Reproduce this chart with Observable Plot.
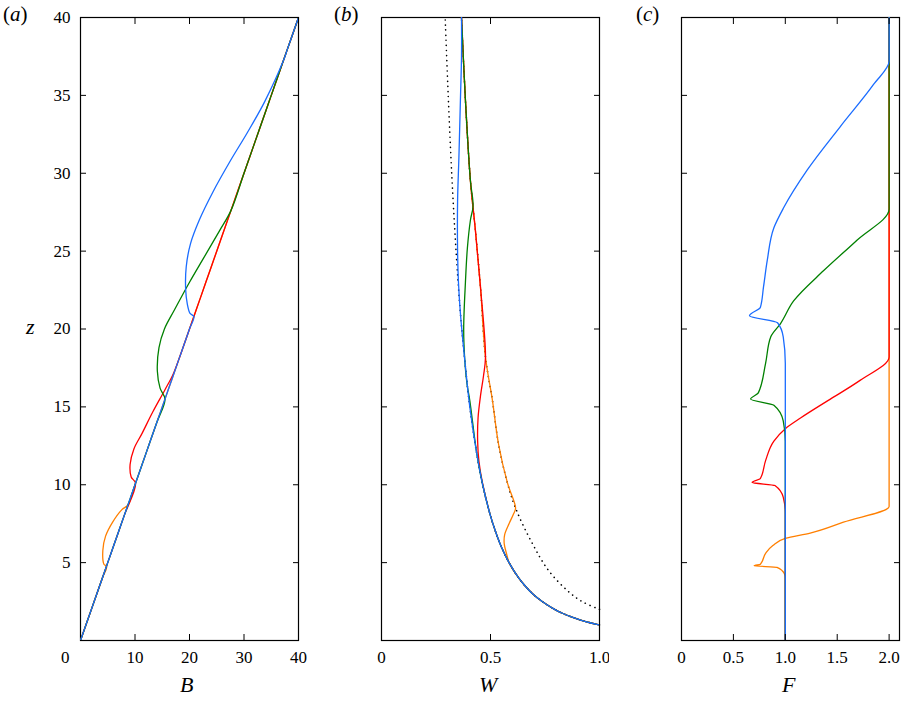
<!DOCTYPE html>
<html><head><meta charset="utf-8">
<script src="https://cdn.jsdelivr.net/npm/d3@7"></script>
<script src="https://cdn.jsdelivr.net/npm/@observablehq/plot@0.6"></script>
<style>
body{margin:0;background:#fff;font-family:"Liberation Serif","Times New Roman",Times,serif;}
#wrap{position:relative;width:904px;height:702px;}
#wrap svg{position:absolute;top:0;}
#wrap svg text{font-family:"Liberation Serif","Times New Roman",Times,serif;}
.lab{position:absolute;font-family:"Liberation Serif","Times New Roman",Times,serif;font-size:21px;color:#000;}
.it{font-style:italic;}
</style></head><body>
<div id="wrap"></div>
<script>
const series = ["orange","red","green","blue"];
const colors = ["#ff7f00","#ff0000","#008000","#1a6cff"];
const zTicks = [5,10,15,20,25,30,35,40];
const bTicks = [10,20,30,40];
const wTicks = [0,0.5,1.0];
const fTicks = [0,0.5,1.0,1.5,2.0];
const fTickLabels = ["0","0.5","1.0","1.5","2.0"];
const baseZ = [0,2,4,6,8,10,12,14,16,18,20,22,24,26,28,30,32,34,36,38,40];

// Panel (a): B deviations [B, z]
const aOrange = [[4.8,4.75],[4.3,4.9],[4.1,5.8],[4.6,6.7],[5.9,7.6],[7.6,8.4],[8.7,8.7]];
const aRed = [[10.1,10.1],[9.3,10.5],[9.1,11.3],[9.8,12.3],[11.3,13.3],[13.3,14.7],[15.5,16.1],[17,17.1],[18.2,18.2]];
const aGreen = [[15.5,15.5],[14.6,16.2],[14.1,17.3],[14.4,18.8],[15.4,20],[17.2,21.2],[20,23],[22.5,24.5],[25.5,26.3],[27.6,27.6]];
const aBlue = [[20.8,20.8],[20.1,21],[19.6,21.6],[19.3,22.5],[19.4,24],[20.2,25.5],[21.8,27],[24.3,28.8],[27.5,30.8],[30.6,32.6],[33.8,34.6],[37.2,37.2]];

// Panel (b): dotted reference curves [W, z]
const wLower = [[1,1],[0.928,1.25],[0.874,1.5],[0.83,1.75],[0.794,2],[0.737,2.5],[0.693,3],[0.659,3.5],[0.63,4],[0.585,5],[0.55,6],[0.523,7],[0.5,8],[0.464,10],[0.437,12],[0.405,15],[0.382,18],[0.362,21],[0.342,25],[0.322,30],[0.306,35],[0.292,40]];
const wUpper = [[1.0,2],[0.92,2.5],[0.853,3.2],[0.766,4.5],[0.693,6.2],[0.615,8.5],[0.578,10.1],[0.537,12.6],[0.509,15.4],[0.477,18.2],[0.454,22.7],[0.431,26.3],[0.408,29.5],[0.385,34.7],[0.367,40]];
const bOrange = {from:5, to:9.5, dev:[[0.585,5],[0.575,5.5],[0.563,6.2],[0.565,6.8],[0.585,7.5],[0.605,8.1],[0.615,8.5]]};
const bRed = {from:10, to:18.3, dev:[[0.462,10.2],[0.447,11.5],[0.441,12.8],[0.443,14.3],[0.455,15.8],[0.468,17],[0.477,18.2]]};
const bGreen = {from:15, to:28, dev:[[0.405,15.4],[0.392,16.5],[0.382,18],[0.377,20],[0.385,23],[0.394,25.2],[0.408,27],[0.42,27.9]]};
const bBlue = {from:21, to:38, dev:[[0.362,21],[0.353,23],[0.349,25],[0.349,28.2],[0.355,31],[0.362,34.7],[0.367,37.5]]};

// Panel (c): F [F, z]
const cOrange = [[1,0],[1,4.0],[0.99,4.3],[0.92,4.7],[0.7,4.8],[0.76,4.9],[0.81,5.6],[0.88,6.1],[1.0,6.55],[1.24,6.9],[1.56,7.6],[2,8.6],[2,40]];
const cRed = [[1,0],[1,8.15],[0.98,9.2],[0.9,9.95],[0.68,10.15],[0.76,10.4],[0.81,11.55],[0.89,12.8],[1.0,13.6],[1.15,14.3],[1.41,15.4],[1.72,16.7],[2,18.2],[2,40]];
const cGreen = [[1,0],[1,12.8],[0.98,14.1],[0.89,15.1],[0.665,15.5],[0.74,15.9],[0.81,17.8],[0.86,19.5],[0.954,20.35],[1.08,21.8],[1.37,23.75],[1.69,25.7],[2,27.7],[2,40]];
const cBlue = [[1,0],[1,17.8],[0.98,19.5],[0.925,20.4],[0.655,20.85],[0.76,21.4],[0.79,22.7],[0.826,24.4],[0.89,26.5],[0.985,27.8],[1.21,30.2],[1.53,33],[1.85,35.7],[2,37.2],[2,40]];

const aData = [aOrange,aRed,aGreen,aBlue].map(d=>{
  const z0=d[0][1], z1=d[d.length-1][1];
  return [...baseZ.filter(z=>z<z0-0.5).map(z=>[z,z]),...d,...baseZ.filter(z=>z>z1+0.5).map(z=>[z,z])];
});
const bData = [bOrange,bRed,bGreen,bBlue].map(s=>[...wLower.filter(p=>p[1]<s.from),...s.dev,...wUpper.filter(p=>p[1]>s.to)]);
const cData = [cOrange,cRed,cGreen,cBlue];

function panel(xDomain, xTicks, xFmt, data, dotted, yLabels, curve){
  const marks = [Plot.frame({strokeWidth:1.2})];
  if (dotted) dotted.forEach(d=>marks.push(Plot.line(d,{x:p=>p[0],y:p=>p[1],stroke:"black",strokeWidth:1.6,strokeDasharray:"0.1,5",strokeLinecap:"round",curve:"catmull-rom"})));
  data.forEach((d,i)=>marks.push(Plot.line(d,{x:p=>p[0],y:p=>p[1],stroke:colors[i],strokeWidth:1.3,curve,clip:true})));
  marks.push(Plot.axisX(xTicks,{anchor:"bottom",tickSize:-6,tickPadding:16,fontSize:17,tickFormat:xFmt,label:null}));
  marks.push(Plot.axisX(xTicks,{anchor:"top",tickSize:-6,tickFormat:()=>"",label:null}));
  marks.push(Plot.axisY(zTicks,{anchor:"left",tickSize:-6,tickPadding:16,fontSize:17,tickFormat:yLabels?(d=>d):(()=>""),label:null}));
  marks.push(Plot.axisY(zTicks,{anchor:"right",tickSize:-6,tickFormat:()=>"",label:null}));
  return Plot.plot({width:309,height:702,marginLeft:81,marginRight:10,marginTop:17,marginBottom:62,
    style:{fontFamily:"'Liberation Serif','Times New Roman',serif",fontSize:"17px",color:"black"},
    x:{domain:xDomain},y:{domain:[0,40]},marks});
}
const wrap = document.getElementById("wrap");
const pa = panel([0,40],bTicks,d=>d,aData,null,true,"catmull-rom");
const pb = panel([0,1],wTicks,d=>d===0?"0":d.toFixed(1),bData,[wLower,wUpper],false,"catmull-rom");
const pc = panel([0,2.1],fTicks,d=>fTickLabels[fTicks.indexOf(d)],cData,null,false,"monotone-y");
pa.style.left="-1px"; pb.style.left="300px"; pc.style.left="600px";
wrap.append(pa,pb,pc);
const labels = [["(","a",")",3,2],["(","b",")",334,2],["(","c",")",636,2]];
labels.forEach(([o,l,c,x,y])=>{const d=document.createElement("div");d.className="lab";d.style.left=x+"px";d.style.top=y+"px";d.innerHTML=o+'<span class="it">'+l+'</span>'+c;wrap.append(d);});
[["B",180,672],["W",479,672],["F",782,672],["z",26,314]].forEach(([t,x,y])=>{const d=document.createElement("div");d.className="lab it";d.style.left=x+"px";d.style.top=y+"px";d.style.fontSize="22px";d.textContent=t;wrap.append(d);});
const zero=document.createElement("div");zero.className="lab";zero.style.left="61px";zero.style.top="648px";zero.style.fontSize="17px";zero.textContent="0";wrap.append(zero);
</script></body></html>
